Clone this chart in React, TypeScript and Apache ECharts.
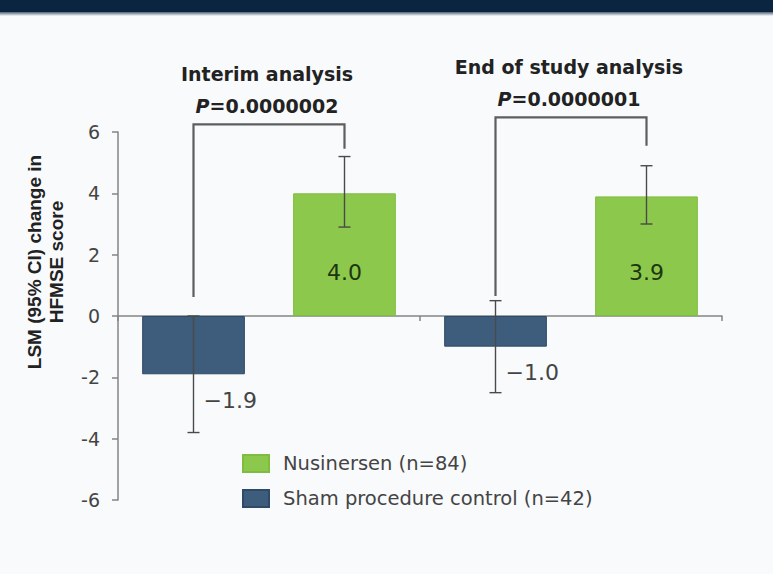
import React, { useEffect, useRef } from 'react';
import * as echarts from 'echarts';

const categories = ['Interim analysis', 'End of study analysis'];
const pValues = ['0.0000002', '0.0000001'];
const shamName = 'Sham procedure control (n=42)';
const nusName = 'Nusinersen (n=84)';
const shamValues = [-1.9, -1.0];
const nusValues = [4.0, 3.9];
const shamLow = [-3.8, -2.5];
const shamHigh = [0.0, 0.5];
const nusLow = [2.9, 3.0];
const nusHigh = [5.2, 4.9];
const bracketTop = [6.25, 6.48];
const bracketLeftEnd = [0.62, 0.65];
const bracketRightEnd = [5.45, 5.55];
const yAxisTitle = 'LSM (95% CI) change in\nHFMSE score';

const FONT = '"DejaVu Sans", sans-serif';
const GREEN = '#8cc84b';
const NAVY = '#3e5c7b';

export default function App() {
  const ref = useRef<HTMLDivElement>(null);
  useEffect(() => {
    if (!ref.current) return;
    const chart = echarts.init(ref.current, undefined, { renderer: 'svg' });

    const errorData: number[][] = [];
    categories.forEach((_, i) => {
      errorData.push([i, shamLow[i], shamHigh[i], -1]);
      errorData.push([i, nusLow[i], nusHigh[i], 1]);
    });
    const labelData: number[][] = [];
    categories.forEach((_, i) => {
      labelData.push([i, shamValues[i], -1]);
      labelData.push([i, nusValues[i], 1]);
    });
    const bracketData = categories.map((_, i) => [i, bracketTop[i], bracketLeftEnd[i], bracketRightEnd[i]]);

    const option: any = {
      animation: false,
      backgroundColor: '#f8fafc',
      grid: { left: 118, right: 51, top: 132, bottom: 74 },
      legend: {
        data: [nusName, shamName],
        orient: 'vertical',
        left: 237,
        top: 448,
        itemWidth: 26,
        itemHeight: 17,
        itemGap: 14,
        icon: 'rect',
        textStyle: { fontSize: 19.5, color: '#444', fontFamily: FONT, lineHeight: 21, padding: [0, 0, 0, 9] },
      },
      xAxis: {
        type: 'category',
        data: categories,
        axisLine: { onZero: true, lineStyle: { color: '#858585', width: 1.5 } },
        axisTick: { show: true, length: 5, lineStyle: { color: '#858585', width: 1.5 } },
        axisLabel: { show: false },
        splitLine: { show: false },
      },
      yAxis: {
        type: 'value',
        min: -6,
        max: 6,
        interval: 2,
        axisLine: { show: true, lineStyle: { color: '#858585', width: 1.5 } },
        axisTick: { show: true, length: 6, lineStyle: { color: '#858585', width: 1.5 } },
        splitLine: { show: false },
        axisLabel: { fontSize: 19, color: '#444', margin: 18, fontFamily: FONT },
      },
      graphic: [
        { type: 'rect', shape: { x: 0, y: 0, width: 773, height: 12 }, style: { fill: '#0b2541' } },
        {
          type: 'rect',
          shape: { x: 0, y: 12, width: 773, height: 4 },
          style: {
            fill: new echarts.graphic.LinearGradient(0, 0, 0, 1, [
              { offset: 0, color: '#4e6478' },
              { offset: 1, color: '#f8fafc' },
            ]),
          },
        },
        {
          type: 'text',
          x: 45,
          y: 262,
          rotation: Math.PI / 2,
          style: {
            text: yAxisTitle,
            align: 'center',
            verticalAlign: 'middle',
            fontSize: 19,
            fontWeight: 'bold',
            fontFamily: '"Liberation Sans", Arial, sans-serif',
            lineHeight: 22,
            fill: '#222',
          },
        },
      ],
      series: [
        {
          name: shamName,
          type: 'bar',
          data: shamValues,
          barGap: '47%',
          barCategoryGap: '16%',
          itemStyle: { color: NAVY, borderColor: '#2f4a66', borderWidth: 1 },
        },
        {
          name: nusName,
          type: 'bar',
          data: nusValues,
          itemStyle: { color: GREEN, borderColor: '#7fbd40', borderWidth: 1 },
        },
        {
          type: 'custom',
          name: 'ci',
          data: errorData,
          clip: false,
          z: 5,
          renderItem: (params: any, api: any) => {
            const c = api.value(0);
            const lo = api.coord([c, api.value(1)]);
            const hi = api.coord([c, api.value(2)]);
            const w = api.size([1, 0])[0];
            const x = lo[0] + api.value(3) * w * 0.25;
            const style = { stroke: '#4a4a4a', lineWidth: 1.4 };
            return {
              type: 'group',
              children: [
                { type: 'line', shape: { x1: x, y1: lo[1], x2: x, y2: hi[1] }, style },
                { type: 'line', shape: { x1: x - 6, y1: lo[1], x2: x + 6, y2: lo[1] }, style },
                { type: 'line', shape: { x1: x - 6, y1: hi[1], x2: x + 6, y2: hi[1] }, style },
              ],
            };
          },
        },
        {
          type: 'custom',
          name: 'labels',
          data: labelData,
          clip: false,
          z: 6,
          renderItem: (params: any, api: any) => {
            const c = api.value(0);
            const v = api.value(1);
            const side = api.value(2);
            const p0 = api.coord([c, 0]);
            const p = api.coord([c, v]);
            const w = api.size([1, 0])[0];
            const x = p0[0] + side * w * 0.25;
            const text = (v < 0 ? '\u2212' : '') + Math.abs(v).toFixed(1);
            const base = { fontSize: 22, fontFamily: FONT, fill: '#333', verticalAlign: 'middle' };
            if (v >= 0) {
              return { type: 'text', x, y: p0[1] - 44, style: { ...base, text, align: 'center', fill: '#1d3510' } };
            }
            return { type: 'text', x: x + 10, y: p[1] + 26, style: { ...base, text, align: 'left', fill: '#444' } };
          },
        },
        {
          type: 'custom',
          name: 'brackets',
          data: bracketData,
          clip: false,
          z: 4,
          renderItem: (params: any, api: any) => {
            const c = api.value(0);
            const idx = params.dataIndex;
            const top = api.coord([c, api.value(1)]);
            const lb = api.coord([c, api.value(2)]);
            const rb = api.coord([c, api.value(3)]);
            const w = api.size([1, 0])[0];
            const xl = top[0] - w * 0.25;
            const xr = top[0] + w * 0.25;
            return {
              type: 'group',
              children: [
                {
                  type: 'polyline',
                  shape: { points: [[xl, lb[1]], [xl, top[1]], [xr, top[1]], [xr, rb[1]]] },
                  style: { stroke: '#5e5e5e', lineWidth: 2.2, fill: 'none' },
                },
                {
                  type: 'text',
                  x: top[0] - 2,
                  y: top[1] - 50,
                  style: {
                    text: categories[idx],
                    align: 'center',
                    verticalAlign: 'middle',
                    fontSize: 19,
                    fontWeight: 'bold',
                    fontFamily: FONT,
                    fill: '#222',
                  },
                },
                {
                  type: 'text',
                  x: top[0] - 2,
                  y: top[1] - 18,
                  style: {
                    text: '{i|P}{n|=' + pValues[idx] + '}',
                    align: 'center',
                    verticalAlign: 'middle',
                    rich: {
                      i: { fontSize: 19, fontWeight: 'bold', fontStyle: 'italic', fontFamily: FONT, fill: '#222' },
                      n: { fontSize: 19, fontWeight: 'bold', fontFamily: FONT, fill: '#222' },
                    },
                  },
                },
              ],
            };
          },
        },
      ],
    };
    chart.setOption(option);
    return () => chart.dispose();
  }, []);
  return <div ref={ref} style={{ position: 'fixed', left: 0, top: 0, width: 773, height: 574 }} />;
}
